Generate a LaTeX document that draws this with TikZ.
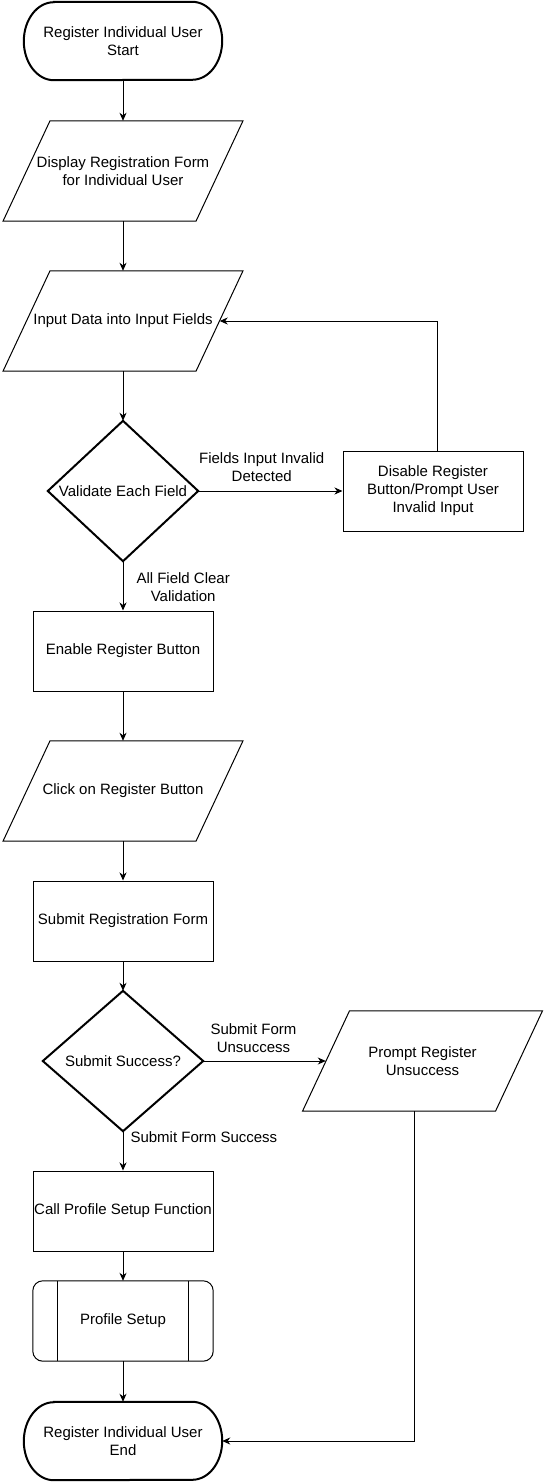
\documentclass[tikz,border=0pt]{standalone}
\usepackage{fontspec}
\setmainfont{Liberation Sans}
\usetikzlibrary{arrows.meta,calc}
\begin{document}
\begin{tikzpicture}[x=1pt,y=1pt,
  txt/.style={font=\fontsize{15}{18}\selectfont, align=center, inner sep=0pt},
  box/.style={txt, draw, line width=1pt, minimum width=180pt, minimum height=80pt},
  hidden/.style={txt, minimum width=#1, minimum height=80pt},
  termnode/.style={txt, minimum width=198pt, minimum height=78pt},
  parabox/.style={txt, minimum width=240pt, minimum height=100pt},
  decnode/.style={txt, minimum height=140pt},
  shapeline/.style={line width=1pt, line join=miter},
  thickline/.style={line width=2pt, line join=miter},
  conn/.style={line width=1pt, -{Stealth[length=8pt,width=7pt,inset=2.5pt]}},
  lbl/.style={txt, fill=white, inner sep=0pt}
]
\useasboundingbox (0,0) rectangle (544,-1482);

% ---- nodes ----
\node[termnode] (start) at (123,-41) {Register Individual User\\Start};
\node[parabox] (p1) at (123,-171) {Display Registration Form\\for Individual User};
\node[parabox] (p2) at (123,-321) {Input Data into Input Fields};
\node[decnode, minimum width=150pt] (d1) at (123,-491) {Validate Each Field};
\node[box] (dis) at (433,-491) {Disable Register\\Button/Prompt User\\Invalid Input};
\node[box] (en) at (123,-651) {Enable Register Button};
\node[parabox] (p3) at (123,-791) {Click on Register Button};
\node[box] (sub) at (123,-921) {Submit Registration Form};
\node[decnode, minimum width=160pt] (d2) at (123,-1061) {Submit Success?};
\node[parabox] (p4) at (422.5,-1061) {Prompt Register\\Unsuccess};
\node[box] (call) at (123,-1211) {Call Profile Setup Function};
\node[txt, minimum width=180pt, minimum height=80pt] (prof) at (123,-1321) {Profile Setup};
\node[termnode] (end) at (123,-1441) {Register Individual User\\End};

% ---- shape outlines ----
% terminators
\foreach \n in {start,end}{
  \draw[thickline] ([xshift=30pt]\n.north west) -- ([xshift=-30pt]\n.north east)
    arc[start angle=90, end angle=-90, x radius=30pt, y radius=39pt]
    -- ([xshift=30pt]\n.south west)
    arc[start angle=270, end angle=90, x radius=30pt, y radius=39pt] -- cycle;
}
% parallelograms
\foreach \n in {p1,p2,p3,p4}{
  \draw[shapeline] ([xshift=-120pt]\n.south) -- ([xshift=73pt]\n.south)
    -- ([xshift=120pt]\n.north) -- ([xshift=-73pt]\n.north) -- cycle;
}
% decisions
\foreach \n in {d1,d2}{
  \draw[thickline] (\n.north) -- (\n.east) -- (\n.south) -- (\n.west) -- cycle;
}
% predefined process
\draw[shapeline, rounded corners=10pt] (prof.south west) rectangle (prof.north east);
\draw[shapeline] ([xshift=25pt]prof.north west) -- ([xshift=25pt]prof.south west);
\draw[shapeline] ([xshift=-25pt]prof.north east) -- ([xshift=-25pt]prof.south east);

% ---- connectors ----
\draw[conn] (start.south) -- (p1.north);
\draw[conn] (p1.south) -- (p2.north);
\draw[conn] (p2.south) -- (d1.north);
\draw[conn] (d1.east) -- node[lbl, pos=0.44, anchor=south, yshift=9pt] {Fields Input Invalid\\Detected} (dis.west);
\draw[conn] ([xshift=4.5pt]dis.north) |- ([xshift=-23.5pt]p2.east);
\draw[conn] (d1.south) -- node[lbl, pos=0.52, anchor=west, xshift=13pt] {All Field Clear\\Validation} (en.north);
\draw[conn] (en.south) -- (p3.north);
\draw[conn] (p3.south) -- (sub.north);
\draw[conn] (sub.south) -- (d2.north);
\draw[conn] (d2.east) -- node[lbl, pos=0.41, anchor=south, yshift=8pt] {Submit Form\\Unsuccess} ([xshift=23.5pt]p4.west);
\draw[conn] (d2.south) -- node[lbl, pos=0.15, anchor=west, xshift=7pt] {Submit Form Success} (call.north);
\draw[conn] (call.south) -- (prof.north);
\draw[conn] (prof.south) -- (end.north);
\draw[conn] ([xshift=-8pt]p4.south) |- (end.east);
\end{tikzpicture}
\end{document}
